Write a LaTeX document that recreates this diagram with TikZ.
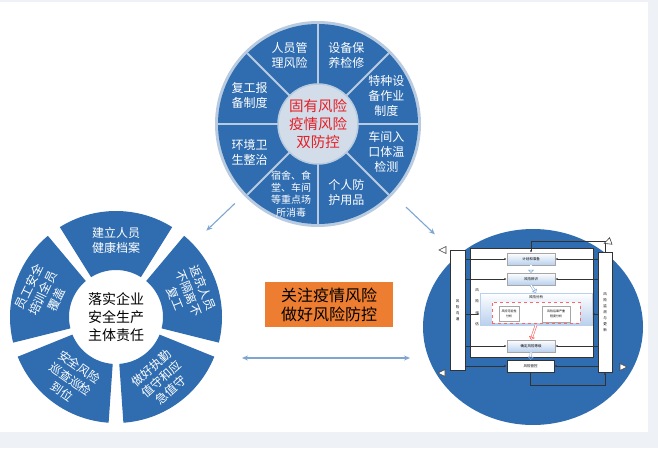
\documentclass[tikz,border=0pt]{standalone}
\usepackage{fontspec}
\setmainfont{Noto Sans CJK SC}
\usepackage{xcolor}
\usetikzlibrary{positioning,arrows.meta,calc}
\definecolor{ringblue}{HTML}{2F6DB0}
\definecolor{ringlight}{HTML}{B9CBE0}
\definecolor{hubgray}{HTML}{D3DDE9}
\definecolor{hubred}{HTML}{E61E25}
\definecolor{linkblue}{HTML}{7FA6D0}
\definecolor{boxorange}{HTML}{ED7D31}
\definecolor{bggray}{HTML}{EEF2F7}
\definecolor{stepblue}{HTML}{B9D0EE}

\begin{document}
\begin{tikzpicture}[x=1pt,y=1pt,
  ringtxt/.style={text=white, align=center, font=\fontsize{12}{15}\selectfont},
  hubtxt/.style={align=center, font=\fontsize{14.5}{18}\selectfont},
  link/.style={draw=linkblue, line width=1.1pt, -{Stealth[length=6pt,width=5pt]}},
  stepbox/.style={draw=gray!70, top color=white, bottom color=stepblue, minimum width=48pt, minimum height=12pt, inner sep=0pt, font=\fontsize{3.5}{4}\selectfont},
  barbox/.style={draw=black!80, fill=white, inner sep=0pt, align=center, font=\fontsize{3.5}{6}\selectfont},
  flow/.style={draw=black!80, line width=0.5pt, -{Latex[length=2.5pt,width=2pt]}},
  hollow/.style={draw=linkblue, double=white, double distance=1.3pt, line width=0.5pt, -{Triangle[open,length=3pt,width=6pt]}},
  tri/.style={draw=black!75, fill=white, line width=0.6pt}]
\useasboundingbox (0,0) rectangle (658,448);
\fill[bggray] (0,0) rectangle (658,448);
\fill[white] (0,16) rectangle (648,446);

% top wheel: eight segments round the hub
\node[circle, fill=ringlight, minimum size=206pt, inner sep=0pt] (topring) at (318,324) {};
\fill[ringblue] (topring.center) circle[radius=100pt];
\foreach \a in {0,45,...,315}
  \draw[ringlight, line width=1.8pt] (topring.center) -- ++(\a:100);
\node[circle, fill=hubgray, draw=ringlight, line width=1.5pt, minimum size=80pt, inner sep=0pt] (hub) at (topring.center) {};
\node[hubtxt, text=hubred] (hubtext) at (hub) {固有风险\\疫情风险\\双防控};
\foreach \ang/\txt [count=\i] in {112.5/{人员管\\理风险}, 67.5/{设备保\\养检修}, 22.5/{特种设\\备作业\\制度}, -22.5/{车间入\\口体温\\检测}, -67.5/{个人防\\护用品}, 157.5/{复工报\\备制度}, 202.5/{环境卫\\生整治}}
  \node[ringtxt] (seg\i) at ($(topring.center)+(\ang:74)$) {\txt};
\node[ringtxt, font=\fontsize{10}{12.3}\selectfont] (seg8) at ($(topring.center)+(-111:75)$) {宿舍、食\\堂、车间\\等重点场\\所消毒};

% left cycle: five blocks round the duty
\coordinate (cyc) at (116,131);
\begin{scope}[shift={(cyc)}]
\foreach \c in {90,18,-54,-126,-198}
  \fill[ringblue] (\c+32:106) arc[start angle=\c+32, end angle=\c-32, radius=106pt]
    -- (\c-32:47) arc[start angle=\c-32, end angle=\c+32, radius=47pt] -- cycle;
\foreach \c/\rot/\txt [count=\i] in {90/0/{建立人员\\健康档案}, 18/-68/{返京人员\\不隔离不\\复工}, -54/42/{做好执勤\\值守和应\\急值守}, -126/-35/{安全风险\\巡查巡检\\到位}, 162/64/{员工安全\\培训全员\\覆盖}}
  \node[ringtxt, rotate=\rot] (blk\i) at (\c:77) {\txt};
\end{scope}
\node[hubtxt, font=\fontsize{14}{18}\selectfont] (duty) at (cyc) {落实企业\\安全生产\\主体责任};

% right disc with the risk flow
\coordinate (rc) at (533,121);
\fill[ringblue] (rc) ellipse[x radius=110pt, y radius=98pt];
\node[draw=black!80, fill=white, minimum width=123pt, minimum height=109pt, inner sep=0pt] (mainbox) at (531.5,145.5) {};
\node[barbox, minimum width=15pt, minimum height=120pt] (leftbar) at (457.5,138) {风\\险\\沟\\通};
\node[barbox, minimum width=14pt, minimum height=120pt] (rightbar) at (605,136) {风\\险\\监\\测\\与\\更\\新};
\node[stepbox] (plan) at (531,189) {计划和准备};
\node[stepbox] (ident) at (531,169) {风险辨识};
\node[stepbox, minimum width=112pt, minimum height=32pt, draw=stepblue] (anal) at (536,139) {};
\node[font=\fontsize{3.5}{4}\selectfont] (analtitle) at (536,151) {风险分析};
\node[draw=red!60, dashed, fill=white, minimum width=88pt, minimum height=21pt, inner sep=0pt] (inner) at (536,135.5) {};
\node[draw=gray!70, fill=white, minimum width=20pt, minimum height=15pt, inner sep=0pt, align=center, font=\fontsize{3}{4.5}\selectfont] (likely) at (509,134) {风险可能性\\分析};
\node[draw=gray!70, fill=white, minimum width=28pt, minimum height=16pt, inner sep=0pt, align=center, font=\fontsize{3}{4.5}\selectfont] (severe) at (556,134) {风险后果严重\\程度分析};
\node[stepbox] (level) at (531,102) {确定风险等级};
\node[barbox, minimum width=47pt, minimum height=12pt] (ctrl) at (530.5,82) {风险管控};
\node[align=center, font=\fontsize{3.5}{11.5}\selectfont] (evaltxt) at (477,140.5) {风\\险\\评\\估};

\foreach \n in {plan,ident,level,ctrl} {
  \draw[flow] (leftbar.east |- \n) -- (\n.west);
  \draw[flow] (rightbar.west |- \n) -- (\n.east);
}
\draw[flow] (leftbar.east |- likely) -- (anal.west |- likely);
\draw[flow] (rightbar.west |- likely) -- (anal.east |- likely);
\draw[flow] (rightbar.north) -- ++(0,11) -| (plan.north);
\draw[flow] (ctrl.south) -- ++(0,-13) -| (rightbar.south);
\draw[hollow] (plan.south) -- (ident.north);
\draw[hollow] (ident.south) -- (anal.north);
\draw[hollow, draw=red!70] (anal.south) -- (level.north);
\draw[hollow] (level.south) -- (ctrl.north);
% corner marks
\foreach \x/\y/\r in {443/198/180, 608/206/200, 442/75/180, 623/81/0}
  \draw[tri, rotate around={\r:(\x,\y)}] (\x+4,\y) -- (\x-3,\y+3.5) -- (\x-3,\y-3.5) -- cycle;

% middle banner and links
\node[fill=boxorange, minimum width=128pt, minimum height=45pt, align=center, font=\fontsize{16}{19}\selectfont] (banner) at (329,143.5) {关注疫情风险\\做好风险防控};
\draw[link, shorten <=115pt, shorten >=125pt] (topring.center) -- (cyc);
\draw[link, shorten <=121pt, shorten >=135pt] (topring.center) -- (rc);
\coordinate (dl) at (242,90);
\coordinate (dr) at (410,90);
\draw[link, {Stealth[length=6pt,width=5pt]}-{Stealth[length=6pt,width=5pt]}] (dl) -- (dr);
\end{tikzpicture}
\end{document}
